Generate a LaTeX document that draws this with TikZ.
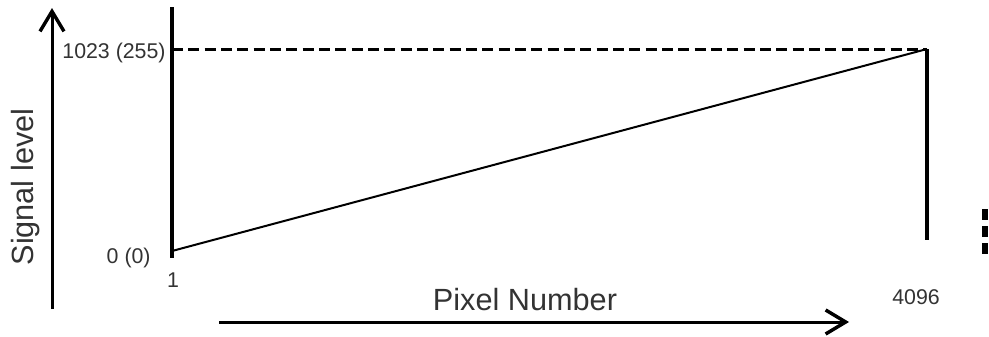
\documentclass[tikz,border=0pt]{standalone}
\usepackage{fontspec}
\setmainfont{Liberation Sans}
\usetikzlibrary{arrows.meta,positioning}

\begin{document}
\begin{tikzpicture}[
    x = 0.75pt, y = -0.75pt, % pixel grid, y downwards
    > = {Straight Barb[length=15pt,width=18pt,line width=2.6pt]}, % open arrow head
    line cap = butt,
    semithick % line style
    ]

    \tikzset{every node/.style={text=black!80, inner sep=0pt}}
    \tikzset{small/.style={font=\fontsize{16}{18}\selectfont}}
    \tikzset{big/.style={font=\fontsize{23}{26}\selectfont}}
    \tikzset{axis/.style={line width=2.25pt}}
    \tikzset{bar/.style={line width=3pt}}

    \useasboundingbox (0,0) rectangle (989,336);

    \coordinate (ybot) at (52,309);
    \coordinate (ytop) at (52,8);
    \coordinate (xleft) at (219,322);
    \coordinate (xright) at (849,322);
    \coordinate (ltop) at (172,7);
    \coordinate (lbot) at (172,258);
    \coordinate (lo) at (172,251);
    \coordinate (top) at (172,49);
    \coordinate (hi) at (927,49);
    \coordinate (rbot) at (927,240);
    \coordinate (cuta) at (985,209);
    \coordinate (cutb) at (985,254);

    % axes
    \draw[->,axis] (ybot) -- (ytop);
    \draw[->,axis] (xleft) -- (xright);

    % signal
    \draw[bar] (ltop) -- (lbot);
    \draw[bar] (hi) -- (rbot);
    \draw[line width=1.5pt] (lo) -- (hi);
    \draw[axis,dash pattern=on 8.25pt off 4pt] (top) -- (hi);
    \draw[line width=4.5pt,dash pattern=on 8.25pt off 4.5pt] (cuta) -- (cutb);

    \node[small,anchor=east] (max) at (166,53) {1023 (255)};
    \node[small,anchor=east] (min) at (151,258) {0 (0)};
    \node[small] (first) at (173,280) {1};
    \node[small] (last) at (916,297) {4096};
    \node[big,anchor=base] (xlab) at (525,310) {Pixel Number};
    \node[big,anchor=base,rotate=90] (ylab) at (33,187) {Signal level};
\end{tikzpicture}
\end{document}
